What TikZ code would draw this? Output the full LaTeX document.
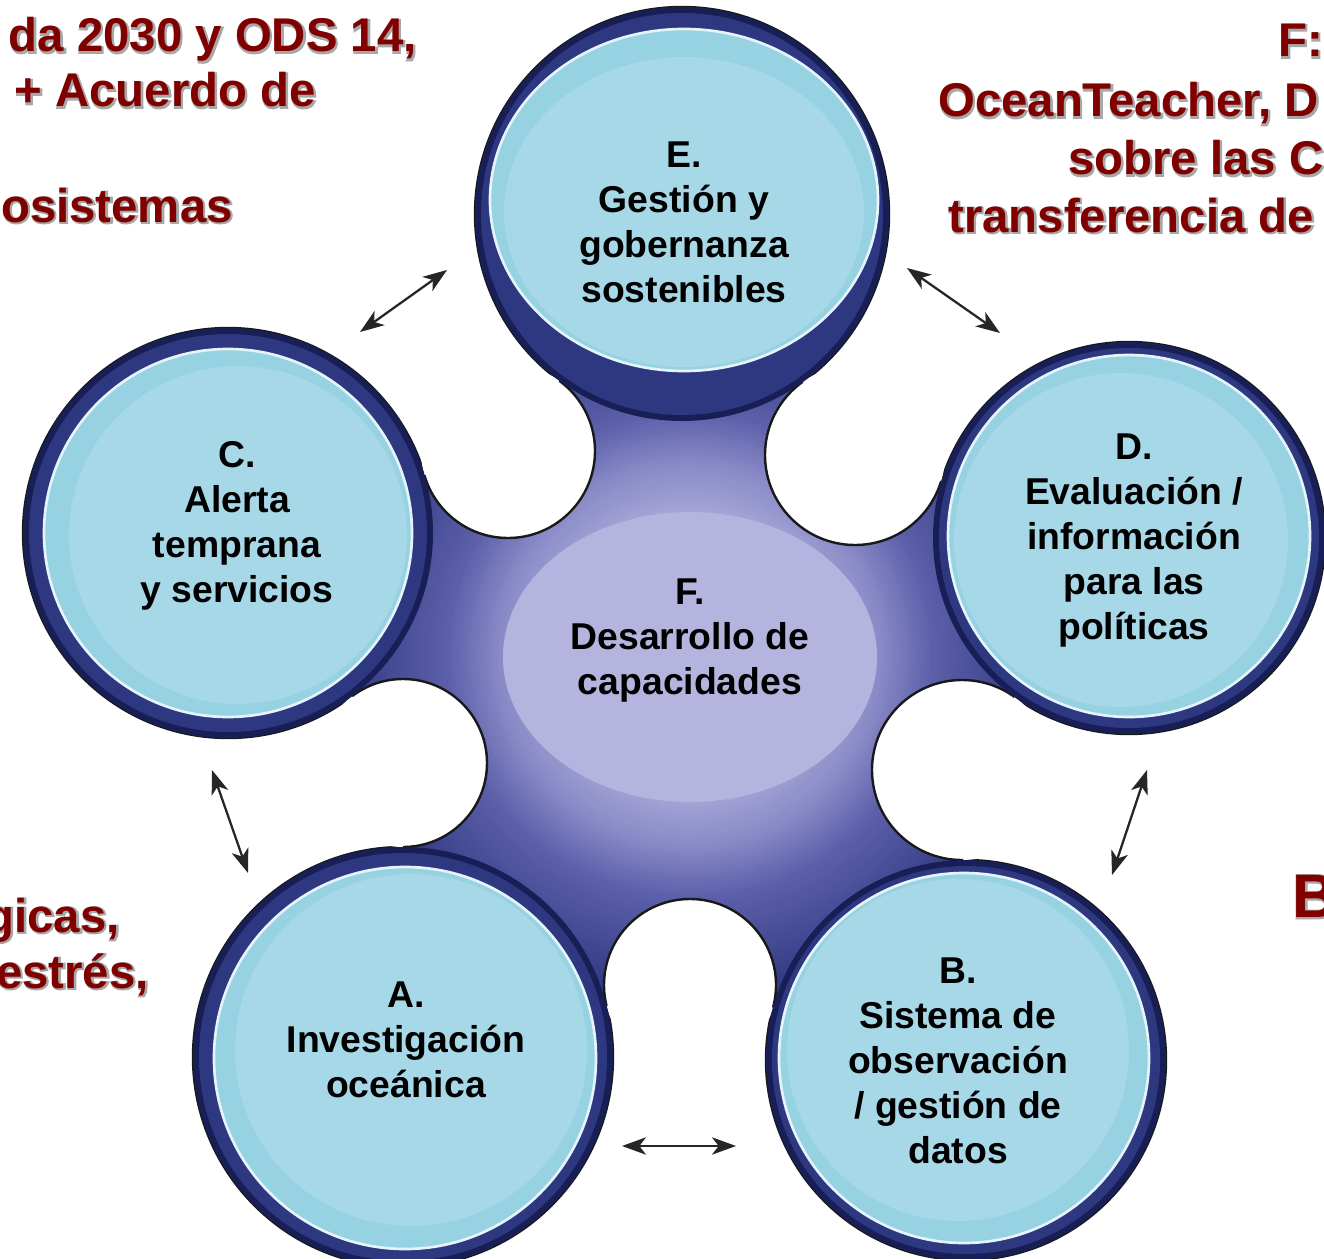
\documentclass[tikz,border=0pt]{standalone}
\usepackage{fontspec}
\setmainfont{Liberation Sans}
\newfontfamily\glowfont{Liberation Sans Bold}[FakeBold=5]
\usetikzlibrary{arrows.meta}
\definecolor{redtxt}{RGB}{128,0,0}
\definecolor{glowc}{RGB}{168,168,168}
\definecolor{ringdark}{RGB}{24,30,86}
\definecolor{ringmid}{RGB}{46,56,128}
\definecolor{diskband}{RGB}{150,210,226}
\definecolor{disk}{RGB}{166,216,231}
\definecolor{diskedge}{RGB}{228,244,250}
\definecolor{lavc}{RGB}{180,180,222}
\definecolor{bB}{RGB}{162,162,213}
\definecolor{bC}{RGB}{136,136,198}
\definecolor{bE}{RGB}{92,96,170}
\definecolor{bF}{RGB}{52,60,132}
\newcommand\redlabel[5]{%
  \node[glowt, font=\fontsize{#5}{43}\glowfont, anchor=#2, xshift=0.6pt, yshift=-0.6pt] (#1g) at #3 {#4};
  \node[redt, font=\fontsize{#5}{43}\selectfont\bfseries, anchor=#2] (#1) at #3 {#4};}
\begin{document}
\begin{tikzpicture}[x=0.75pt,y=-0.75pt,
  circtext/.style={font=\fontsize{28}{33.75}\selectfont\bfseries, align=center, text=black, inner sep=0pt},
  glowt/.style={text=glowc, inner sep=0pt},
  redt/.style={text=redtxt, inner sep=0pt},
  link/.style={{Stealth[length=18pt,width=13pt,inset=5pt]}-{Stealth[length=18pt,width=13pt,inset=5pt]}, line width=1.7pt, black!85},
  outl/.style={draw=black!90, line width=1.8pt}]
\useasboundingbox (0,0) rectangle (1324,1259);
\fill[white] (0,0) rectangle (1324,1259);
\clip (0,0) rectangle (1324,1259);

% centres
\coordinate (cE) at (682,214);
\coordinate (cD) at (1129,538);
\coordinate (cB) at (966,1060);
\coordinate (cA) at (403,1057);
\coordinate (cC) at (228,533);
\coordinate (cF) at (690,655);
% notch centres
\coordinate (nED) at (855,455);
\coordinate (nDB) at (962,770);
\coordinate (nBA) at (690,985);
\coordinate (nAC) at (403,763);
\coordinate (nCE) at (508,451);

% outer outlines of the circles
\foreach \p/\R in {cE/207, cD/196, cB/200, cA/210, cC/205}
  \draw[outl] (\p) circle [radius=\R];

% central body with radial gradient
\begin{scope}
  \clip (cE) -- (nED) -- (cD) -- (nDB) -- (cB) -- (nBA) -- (cA) -- (nAC) -- (cC) -- (nCE) -- cycle;
  \fill[bF] (cF) circle [radius=470];
  \foreach \r in {340,336,...,248} {
    \pgfmathtruncatemacro\pp{(340-\r)/95*100}
    \fill[fill=bE!\pp!bF] (cF) circle [radius=\r];}
  \foreach \r in {244,240,...,196} {
    \pgfmathtruncatemacro\pp{(245-\r)/50*100}
    \fill[fill=bC!\pp!bE] (cF) circle [radius=\r];}
  \foreach \r in {192,188,...,148} {
    \pgfmathtruncatemacro\pp{(195-\r)/45*100}
    \fill[fill=bB!\pp!bC] (cF) circle [radius=\r];}
\end{scope}
\foreach \p/\r in {nED/90, nDB/90, nBA/86, nAC/84, nCE/87}
  \fill[white] (\p) circle [radius=\r];
\begin{scope}
  \clip (cE) -- (nED) -- (cD) -- (nDB) -- (cB) -- (nBA) -- (cA) -- (nAC) -- (cC) -- (nCE) -- cycle;
  \foreach \p/\r in {nED/90, nDB/90, nBA/86, nAC/84, nCE/87}
    \draw[outl] (\p) circle [radius=\r];
\end{scope}
\fill[lavc] (690,657) ellipse [x radius=187, y radius=145];

% rings
\foreach \p/\R in {cE/207, cD/196, cB/200, cA/210, cC/205} {
  \fill[ringdark] (\p) circle [radius=\R];
  \fill[ringmid] (\p) circle [radius=\R-6];}

% inner discs
\fill[diskband] (684,200) ellipse [x radius=194, y radius=171];
\fill[disk] (684,212) ellipse [x radius=180, y radius=155];
\draw[diskedge, line width=2pt] (684,200) ellipse [x radius=194, y radius=171];

\fill[diskband] (228,533) circle [radius=184];
\fill[disk] (238,535) circle [radius=169];
\draw[diskedge, line width=2pt] (228,533) circle [radius=184];

\fill[diskband] (1129,536) circle [radius=181];
\fill[disk] (1121,540) circle [radius=167];
\draw[diskedge, line width=2pt] (1129,536) circle [radius=181];

\fill[diskband] (405,1058) circle [radius=191];
\fill[disk] (411,1050) circle [radius=176];
\draw[diskedge, line width=2pt] (405,1058) circle [radius=191];

\fill[diskband] (964,1058) circle [radius=185];
\fill[disk] (958,1050) circle [radius=171];
\draw[diskedge, line width=2pt] (964,1058) circle [radius=185];

% texts
\node[circtext] (tE) at (684,222) {E.\\Gestión y\\gobernanza\\sostenibles};
\node[circtext] (tC) at (237,526) {C.\\Alerta\\temprana\\y servicios};
\node[circtext] (tD) at (1134,541) {D.\\Evaluación /\\información\\para las\\políticas};
\node[circtext] (tF) at (690,641) {F.\\Desarrollo de\\capacidades};
\node[circtext] (tA) at (406,1040) {A.\\Investigación\\oceánica};
\node[circtext] (tB) at (958,1061) {B.\\Sistema de\\observación\\/ gestión de\\datos};

% arrows
\coordinate (aCE1) at (360,332); \coordinate (aCE2) at (447,270);
\coordinate (aED1) at (907,268); \coordinate (aED2) at (1000,333);
\coordinate (aCA1) at (212,770); \coordinate (aCA2) at (248,873);
\coordinate (aDB1) at (1147,770); \coordinate (aDB2) at (1112,875);
\coordinate (aAB1) at (622,1146); \coordinate (aAB2) at (736,1146);
\draw[link] (aCE1) -- (aCE2);
\draw[link] (aED1) -- (aED2);
\draw[link] (aCA1) -- (aCA2);
\draw[link] (aDB1) -- (aDB2);
\draw[link] (aAB1) -- (aAB2);

% side texts
\redlabel{l1}{base east}{(417,52)}{da 2030 y ODS 14,}{35.5}
\redlabel{l2}{base east}{(316,107)}{+ Acuerdo de}{35.5}
\redlabel{l3}{base east}{(233,222)}{osistemas}{35.5}
\redlabel{l4}{base east}{(120,932)}{gicas,}{35.5}
\redlabel{l5}{base east}{(149,988)}{estrés,}{35.5}
\redlabel{r1}{base west}{(1278,57)}{F:}{35.5}
\redlabel{r2}{base west}{(938,117)}{OceanTeacher, D}{35.5}
\redlabel{r3}{base west}{(1068,175)}{sobre las C}{35.5}
\redlabel{r4}{base west}{(948,232)}{transferencia de}{35.5}
\redlabel{r5}{base west}{(1292,917)}{B}{46}
\end{tikzpicture}
\end{document}
